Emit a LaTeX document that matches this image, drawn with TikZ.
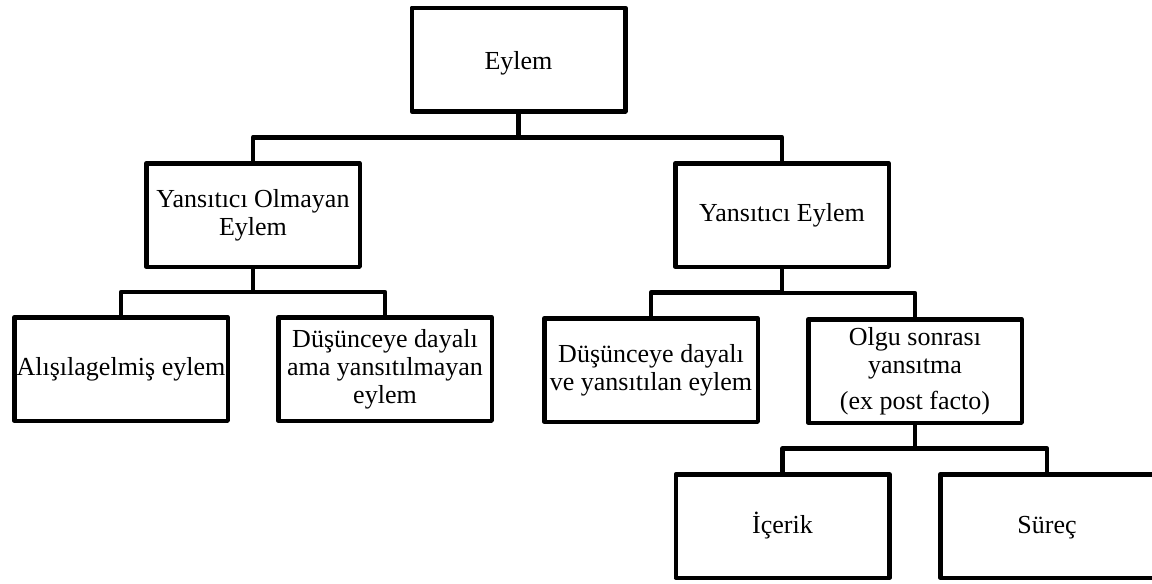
\documentclass[tikz,border=0pt]{standalone}
\usepackage{fontspec}
\setmainfont{Liberation Serif}
\usetikzlibrary{calc}
\begin{document}
\begin{tikzpicture}[x=1pt,y=-1pt,
  box/.style={draw=black, fill=white, line width=4.5pt, line join=round,
    minimum width=213.5pt, minimum height=103.5pt, inner sep=0pt,
    align=center, font=\fontsize{26}{28}\selectfont},
  link/.style={draw=black, line width=4.5pt, line join=round}]
\useasboundingbox (0,0) rectangle (1152,584);
\clip (0,0) rectangle (1152,584);

% tree nodes
\node[box] (eylem) at (518.5,59.5) {\raisebox{-4pt}[\height][\depth]{Eylem}};
\node[box] (yoe)   at (253,215)    {Yansıtıcı Olmayan\\Eylem};
\node[box] (ye)    at (782,215)    {Yansıtıcı Eylem};
\node[box] (alis)  at (121,369)    {Alışılagelmiş eylem};
\node[box] (ddy)   at (385,369)    {Düşünceye dayalı\\ama yansıtılmayan\\eylem};
\node[box] (dvy)   at (651,370)    {Düşünceye dayalı\\ve yansıtılan eylem};
\node[box] (olgu)  at (915,371)    {Olgu sonrası\\yansıtma\\[8pt](ex post facto)};
\node[box] (icerik) at (782.5,526) {İçerik};
\node[box] (surec)  at (1047,526)  {\vphantom{İ}Süreç};

% elbow connectors from parent to child
\foreach \p/\c in {eylem/yoe, eylem/ye, yoe/alis, yoe/ddy, ye/dvy, ye/olgu, olgu/icerik, olgu/surec}
  \draw[link] (\p.south) |- ($(\p.south)!.5!(\c.north)$) -| (\c.north);
\end{tikzpicture}
\end{document}
